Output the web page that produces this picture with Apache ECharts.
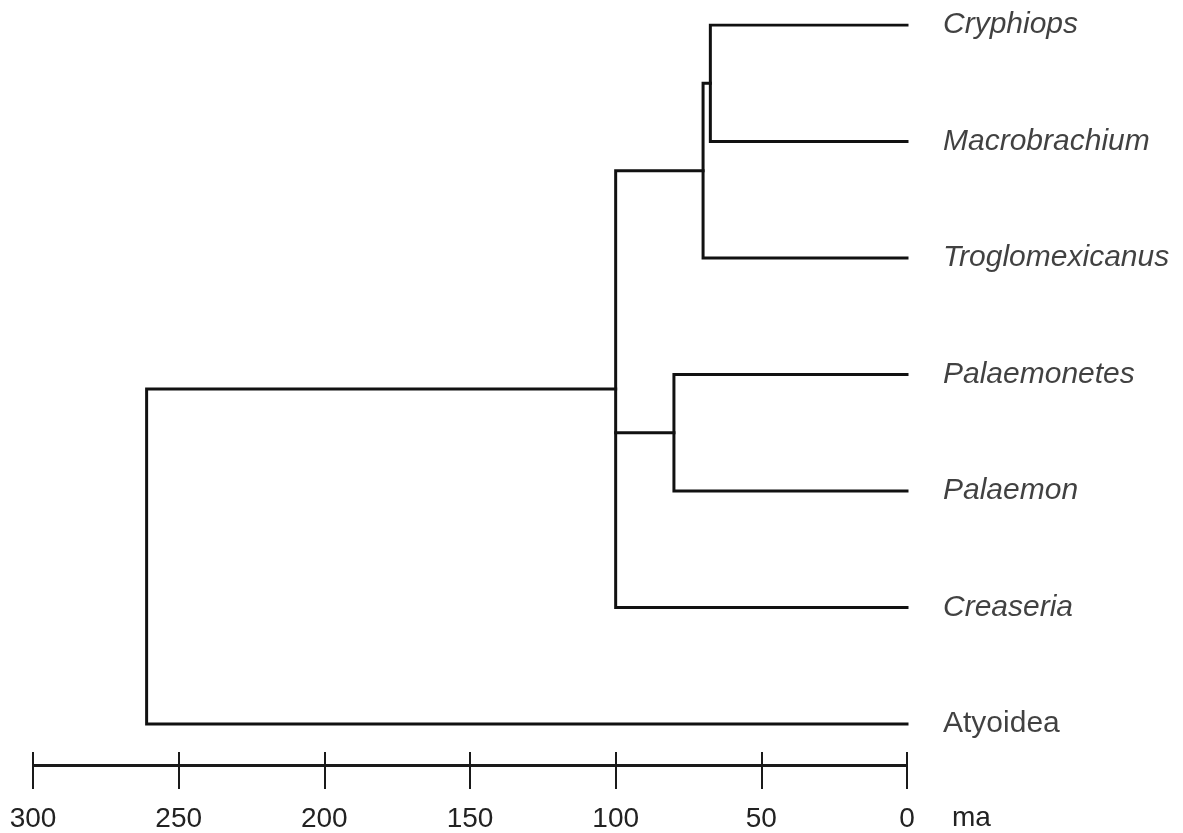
<!DOCTYPE html>
<html>
<head>
<meta charset="utf-8">
<title>Palaemonidae divergence times</title>
<script src="https://cdn.jsdelivr.net/npm/echarts@6/dist/echarts.min.js"></script>
<style>
  html, body { margin: 0; padding: 0; background: #fff; }
  #chart { width: 1183px; height: 833px; }
</style>
</head>
<body>
<div id="chart"></div>
<script>
// Terminal taxa, top to bottom
const taxa = ['Cryphiops', 'Macrobrachium', 'Troglomexicanus', 'Palaemonetes', 'Palaemon', 'Creaseria', 'Atyoidea'];
// Which taxon names are genera (set in italics)
const isGenus = [true, true, true, true, true, true, false];
// Clade divergence ages (million years ago)
const cladeAges = [67.5, 70, 80, 100, 261];
// Clade members: taxon names or '#n' for clade n
const cladeChildren = [
  ['Cryphiops', 'Macrobrachium'],
  ['#0', 'Troglomexicanus'],
  ['Palaemonetes', 'Palaemon'],
  ['#1', '#2', 'Creaseria'],
  ['#3', 'Atyoidea']
];
// Time scale ticks
const timeTicks = [300, 250, 200, 150, 100, 50, 0];
const timeUnit = 'ma';

// Resolve each node to [age, row]
const cladePos = [];
function nodePos(ref) {
  if (ref.charAt(0) === '#') return cladePos[+ref.slice(1)];
  return [0, taxa.indexOf(ref)];
}
cladeChildren.forEach(function (kids, i) {
  const first = nodePos(kids[0]);
  const last = nodePos(kids[kids.length - 1]);
  cladePos[i] = [cladeAges[i], (first[1] + last[1]) / 2];
});

// Elbow connectors of the tree
const branchPaths = [];
cladeChildren.forEach(function (kids, i) {
  const age = cladePos[i][0];
  const first = nodePos(kids[0]);
  const last = nodePos(kids[kids.length - 1]);
  branchPaths.push({ coords: [[first[0], first[1]], [age, first[1]], [age, last[1]], [last[0], last[1]]] });
  for (let k = 1; k < kids.length - 1; k++) {
    const mid = nodePos(kids[k]);
    branchPaths.push({ coords: [[age, mid[1]], [mid[0], mid[1]]] });
  }
});

const tipPoints = taxa.map(function (name, i) {
  return {
    value: [0, i],
    name: name,
    label: { fontStyle: isGenus[i] ? 'italic' : 'normal' }
  };
});

const FONT = '"Liberation Sans", Arial, Helvetica, sans-serif';
const INK = '#111';

const layout = { left: 33, right: 276, top: 25, bottom: 67 };
const yAxisCommon = { type: 'value', min: 0, max: 6.36, inverse: true, show: false };
const xAxisCommon = {
  type: 'value', min: 0, max: 300, interval: 50, inverse: true,
  position: 'bottom',
  splitLine: { show: false },
  axisLine: { show: true, onZero: false, lineStyle: { color: '#1a1a1a', width: 2 } }
};

const chart = echarts.init(document.getElementById('chart'), null, { renderer: 'canvas' });
chart.setOption({
  animation: false,
  backgroundColor: '#fff',
  grid: [
    Object.assign({}, layout),
    Object.assign({}, layout)
  ],
  xAxis: [
    Object.assign({}, xAxisCommon, {
      gridIndex: 0,
      axisTick: { show: true, inside: true, length: 14, lineStyle: { color: '#1a1a1a', width: 2 } },
      axisLabel: { show: false }
    }),
    Object.assign({}, xAxisCommon, {
      gridIndex: 1,
      axisTick: { show: true, inside: false, length: 24, lineStyle: { color: '#1a1a1a', width: 2 } },
      axisLabel: {
        show: true, margin: 40, color: '#222',
        fontFamily: FONT, fontSize: 28,
        formatter: function (v) { return timeTicks.indexOf(v) >= 0 ? String(v) : ''; }
      }
    })
  ],
  yAxis: [
    Object.assign({ gridIndex: 0 }, yAxisCommon),
    Object.assign({ gridIndex: 1 }, yAxisCommon)
  ],
  series: [
    {
      type: 'lines',
      coordinateSystem: 'cartesian2d',
      xAxisIndex: 0, yAxisIndex: 0,
      polyline: true,
      silent: true,
      lineStyle: { color: INK, width: 3, opacity: 1, join: 'miter', cap: 'square' },
      data: branchPaths
    },
    {
      type: 'scatter',
      xAxisIndex: 0, yAxisIndex: 0,
      symbolSize: 0,
      silent: true,
      label: {
        show: true, position: 'right', distance: 36,
        color: '#111', fontFamily: FONT, fontSize: 30,
        formatter: '{b}'
      },
      data: tipPoints
    }
  ],
  graphic: [
    {
      type: 'text', left: 952, top: 804,
      style: { text: timeUnit, fill: '#222', font: '28px ' + FONT }
    }
  ]
});
</script>
</body>
</html>
